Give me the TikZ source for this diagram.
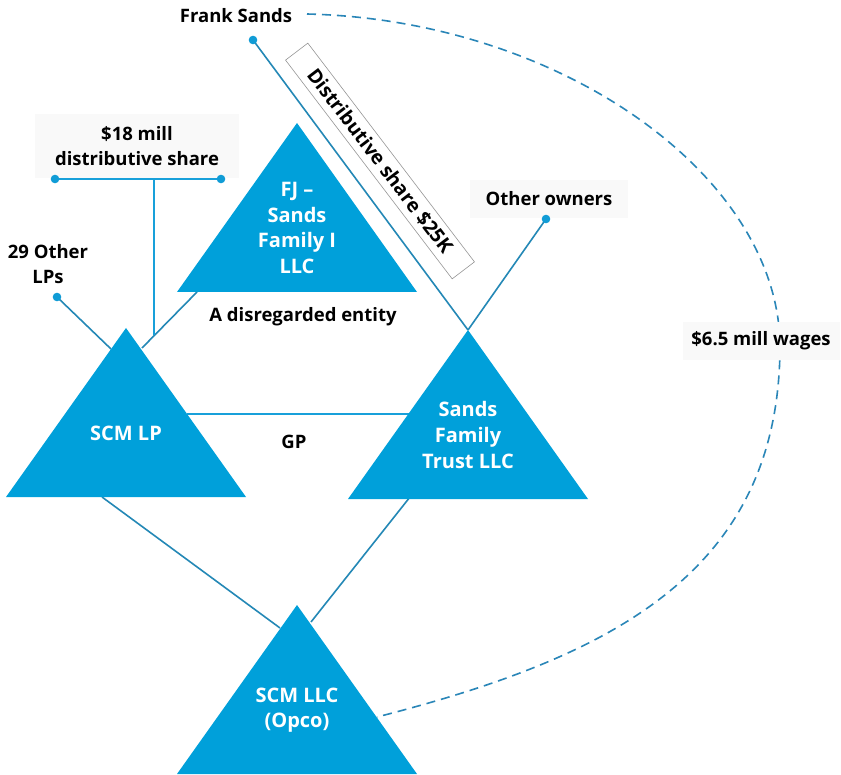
\documentclass[tikz,border=0pt]{standalone}
\usepackage{fontspec}
\setmainfont{Open Sans}
\usetikzlibrary{calc}
\definecolor{trifill}{RGB}{0,160,218}
\definecolor{linkdark}{RGB}{36,136,182}
\definecolor{linklight}{RGB}{24,160,218}
\definecolor{dotblue}{RGB}{16,156,214}
\definecolor{wagedash}{RGB}{42,134,184}
\definecolor{boxgray}{RGB}{249,249,249}
\definecolor{rimgray}{RGB}{150,150,150}

% one entity: filled triangle with its apex at (#2,#3), label #4 inside
\newcommand\triEntity[4]{%
  \fill[trifill] (#2,#3) -- ++(-120,169) -- ++(240,0) -- cycle;
  \coordinate (#1-apex) at (#2,#3);
  \node[tritext] (#1) at (#2,#3+105) {#4};
}

\begin{document}
\begin{tikzpicture}[x=1pt,y=-1pt,
    lbl/.style={font=\fontsize{18.5}{25}\selectfont\bfseries, text=black, align=center, inner sep=0pt},
    tritext/.style={font=\fontsize{20}{25.6}\selectfont\bfseries, text=white, align=center, inner sep=0pt},
    link/.style={draw=linkdark, line width=1.6pt},
    linkb/.style={draw=linklight, line width=1.6pt},
    wage/.style={draw=wagedash, line width=1.6pt, dash pattern=on 9pt off 6pt},
    dotmark/.style={fill=dotblue},
    shaded/.style={fill=boxgray, inner sep=0pt}]
\fill[white] (0,0) rectangle (841,775);
\useasboundingbox (0,0) rectangle (841,775);

% labels with a pale backing
\node[lbl, shaded, minimum width=204, minimum height=64] (dist18) at (137,146) {\$18 mill\\distributive share};
\node[lbl, shaded, minimum width=158, minimum height=38] (others) at (549,199) {Other owners};

% connector ends
\coordinate (frankdot) at (253,40);
\coordinate (ownerdot) at (546,219);
\coordinate (lpdot) at (57,297);
\coordinate (d18a) at (55,179);
\coordinate (d18b) at (221,179);
\coordinate (d18mid) at (154,179);
\coordinate (d18end) at (154,335);
\coordinate (fjfoot) at (197,292);
\coordinate (lpright) at (142,348);
\coordinate (lpleft) at (111,349);
\coordinate (gpl) at (187,414);
\coordinate (gpr) at (409,414);
\coordinate (lpfoot) at (102,497);
\coordinate (sftfoot) at (410,497);
\coordinate (llcleft) at (280,628);
\coordinate (llcright) at (311,622);
\coordinate (franktail) at (307,14);
\coordinate (wagept) at (780,345);
\coordinate (llcside) at (377,717);

% ownership lines
\draw[link] (frankdot) -- (468,330) coordinate (sftin);
\draw[link] (ownerdot) -- (sftin);
\draw[link] (lpdot) -- (lpleft);
\draw[link] (fjfoot) -- (lpright);
\draw[linkb] (d18a) -- (d18b);
\draw[linkb] (d18mid) -- (d18end);
\draw[linkb] (gpl) -- (gpr);
\draw[link] (lpfoot) -- (llcleft);
\draw[link] (sftfoot) -- (llcright);

% wages link
\draw[wage] (franktail) .. controls (560,20) and (778,175) .. (wagept)
  .. controls (780,575) and (607,658) .. (llcside);

% end dots
\foreach \d in {frankdot,ownerdot,lpdot,d18a,d18b}
  \fill[dotmark] (\d) circle (4.3);

% entities
\triEntity{fj}{297}{123}{FJ --\\Sands\\Family I\\LLC}
\triEntity{lp}{126}{328}{SCM LP}
\triEntity{sft}{468}{330}{Sands\\Family\\Trust LLC}
\triEntity{llc}{297}{605}{SCM LLC\\(Opco)}

% plain labels
\node[lbl] (frank) at (236,16) {Frank Sands};
\node[lbl] (lps) at (48,264.5) {29 Other\\LPs};
\node[lbl] (disreg) at (303,317) {A disregarded entity};
\node[lbl] (gp) at (294,442) {GP};
\node[lbl, shaded, minimum width=157, minimum height=38] (wages) at (761,341) {\$6.5 mill wages};

% rotated note along Frank Sands' line
\node[lbl, font=\fontsize{19.5}{25}\selectfont\bfseries, draw=rimgray, line width=0.6pt, fill=white, rotate=-52.7,
      minimum width=275, minimum height=28] (dist25) at (380,161) {Distributive share \$25K};
\end{tikzpicture}
\end{document}
